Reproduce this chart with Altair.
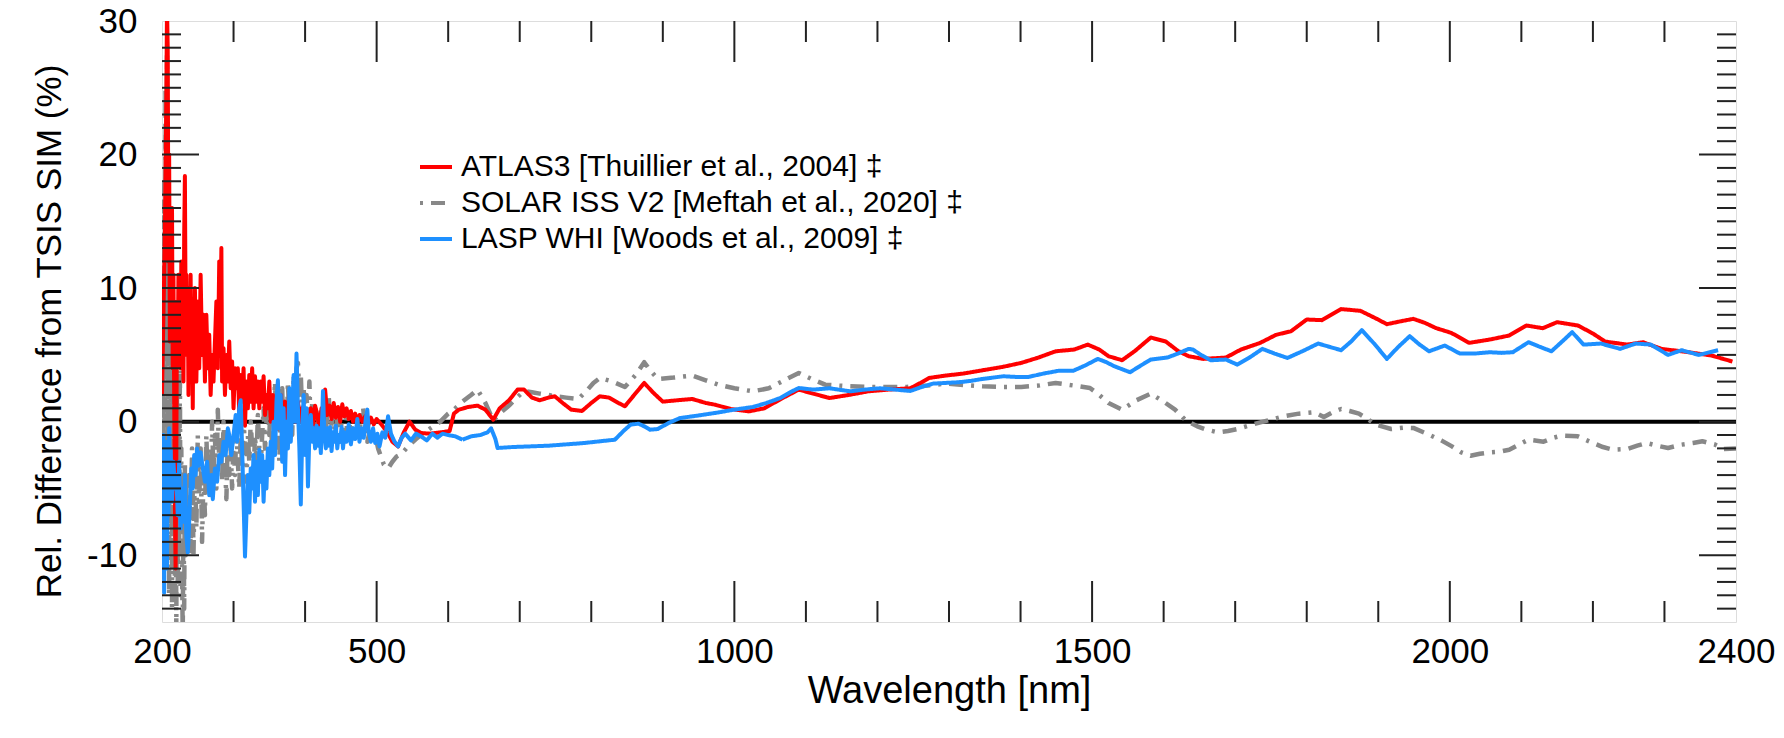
import altair as alt
import pandas as pd

# ---------------- data ----------------
SERIES = ["ATLAS3 [Thuillier et al., 2004] \u2021",
          "SOLAR ISS V2 [Meftah et al., 2020] \u2021",
          "LASP WHI [Woods et al., 2009] \u2021"]
COLORS = ["#ff0000", "#888888", "#1e90ff"]

# (wavelength nm, relative difference %)
atlas3 = [
    (200, 2), (202, 8), (204, 14), (206, 24), (207, 31), (208, 28), (209, 12), (210, 20),
    (211, 6), (212, 15), (213, 9), (214, 16), (215, 4), (216, 11), (217, 2), (218, -6),
    (219, -11), (220, -3), (221, 9), (222, 5), (223, 11), (224, 7), (225, 10), (226, 4),
    (227, 12), (228, 6), (229, 9), (230, 3), (231, 14), (232, 18.4), (233, 8), (234, 11),
    (235, 5), (236, 10), (237, 2), (238, 9), (239, 6), (240, 11), (241, 4), (242, 8),
    (243, 1), (244, 9), (245, 5), (246, 10), (248, 3), (250, 9), (252, 4), (254, 11),
    (256, 5), (258, 8), (260, 3), (262, 8), (264, 4), (266, 6.5), (268, 2), (270, 5),
    (272, 3), (274, 6), (276, 9), (277, 5), (278, 4), (280, 12), (281, 5), (282, 9),
    (283, 13), (284, 3), (286, 5.5), (288, 2), (290, 5), (292, 3), (294, 6), (296, 2.5),
    (298, 4.5), (300, 1), (302, 4), (304, 2.5), (306, 4), (308, 0.5), (310, 3.5), (312, 1.5),
    (314, 4), (316, -0.3), (318, 3), (320, 1), (322, 3.5), (324, 1.5), (326, 4), (328, 1),
    (330, 3.4), (332, 1.5), (334, 3), (336, 1), (338, 3), (340, 1.5), (342, 3.4), (344, 0.5),
    (346, 2), (348, 1), (350, 3), (352, 0), (355, 2), (358, -0.8), (360, 1.5), (363, -0.5),
    (366, 2), (369, 0), (372, 1.5), (375, -1), (378, 2), (381, 0.5), (384, 2.3), (387, 0),
    (390, 1.5), (393, 0), (396, 1), (399, -1), (402, 0.5), (405, -0.8), (408, 1), (411, -0.5),
    (414, 1.2), (417, 0.5), (420, -0.5), (423, 1), (426, 0), (428, 2.4), (431, 0.5), (434, 1.2),
    (437, 0.2), (440, 1.4), (443, 0.3), (446, 1.1), (449, 0), (452, 1.3), (455, 0.4), (458, 1),
    (461, 0.2), (464, 0.8), (467, 0), (470, 0.6), (473, -0.2), (476, 0.5), (480, 0), (484, 0.4),
    (488, -0.3), (492, 0.3), (496, -0.2), (500, 0.2), (508, -0.3), (515, -0.8), (522, -1.5),
    (530, -1.85), (538, -0.8), (546, 0.0), (554, -0.6), (562, -0.85), (575, -0.9), (590, -0.8),
    (602, -0.7), (608, 0.6), (615, 0.9), (628, 1.1), (641, 1.2), (652, 0.9), (663, 0.15),
    (672, 1.0), (685, 1.6), (697, 2.4), (706, 2.4), (717, 1.8), (728, 1.6), (740, 1.8),
    (749, 1.9), (760, 1.4), (772, 0.9), (787, 0.8), (800, 1.4), (812, 1.9), (825, 1.8),
    (838, 1.4), (847, 1.15), (860, 2.0), (874, 2.9), (886, 2.2), (900, 1.5), (920, 1.6),
    (941, 1.7), (960, 1.4), (973, 1.27), (995, 0.95), (1020, 0.77), (1042, 1.0), (1065, 1.7),
    (1090, 2.4), (1110, 2.1), (1133, 1.77), (1160, 2.0), (1187, 2.27), (1215, 2.4), (1246, 2.5),
    (1260, 2.9), (1272, 3.27), (1295, 3.45), (1320, 3.6), (1347, 3.85), (1375, 4.1), (1401, 4.4),
    (1425, 4.8), (1449, 5.27), (1475, 5.4), (1494, 5.77), (1510, 5.4), (1523, 4.9), (1542, 4.6),
    (1560, 5.3), (1582, 6.3), (1603, 6.0), (1620, 5.3), (1635, 4.9), (1655, 4.7), (1687, 4.8),
    (1708, 5.4), (1735, 5.9), (1757, 6.5), (1778, 6.77), (1800, 7.65), (1821, 7.6), (1848, 8.43),
    (1875, 8.3), (1896, 7.75), (1912, 7.3), (1930, 7.5), (1949, 7.7), (1965, 7.4), (1981, 7.0),
    (2002, 6.65), (2027, 5.9), (2056, 6.15), (2083, 6.45), (2107, 7.2), (2130, 7.0), (2150, 7.45),
    (2179, 7.2), (2200, 6.6), (2217, 6.0), (2248, 5.77), (2270, 5.95), (2296, 5.45), (2334, 5.2),
    (2366, 4.95), (2395, 4.5),
]

solar_iss = [
    (200, -3), (201, 10), (202, -12), (203, 18), (204, -8), (205, 25), (206, 5), (207, 27.4),
    (208, -5), (209, 20), (210, -13), (211, 14), (212, -6), (213, 10), (214, -14), (215, 8),
    (216, -10), (217, 5), (218, -13), (219, 3), (220, -15.5), (221, 2), (222, -12), (223, 0),
    (224, -9), (225, 4), (226, -13), (227, -2), (228, -11), (229, -16), (230, -6), (231, -14),
    (232, -3), (233, -10), (234, -5), (236, -9), (238, -4), (240, -10), (242, -2), (244, -10),
    (246, -3), (248, -8), (250, -1), (252, -6), (254, -2), (256, -9), (258, -4), (260, -7),
    (262, -1), (264, -5), (266, -2), (268, -5.5), (270, 0), (272, -4), (274, -1), (276, -5),
    (278, 0.9), (280, -3), (282, -1), (284, -4.5), (286, 0), (288, -3), (290, -5.8), (292, -1),
    (294, -4), (296, -2), (298, -5), (300, -1.5), (302, -4), (304, -0.5), (306, -3), (308, -5),
    (310, -1), (312, -3.5), (314, 0.5), (316, -2.5), (318, -4.5), (320, -1), (322, -3), (324, 0),
    (326, -2), (328, -4), (330, -1), (332, -3), (334, 0.5), (336, -2), (338, -3.3), (340, -1),
    (342, 1), (344, -2), (346, 0), (348, 2), (350, -1), (352, 1.5), (354, -2.5), (356, 0.5),
    (358, 3), (360, -1), (362, 2), (364, -3), (366, 1), (368, 2.5), (370, -1.5), (372, 1),
    (374, -2), (376, 3), (378, 0), (380, 2), (382, -1), (384, 3.5), (386, 1), (388, 4),
    (390, 4.4), (392, 2), (394, 3.5), (396, 0.5), (398, 2.5), (400, -0.5), (402, 2), (404, 0),
    (406, 3), (408, -1), (410, 1.5), (412, -0.5), (414, 1), (416, -1.5), (418, 0.5), (420, -1),
    (422, 1), (424, -0.8), (426, 0.5), (428, -1.5), (430, 0), (433, 1.9), (436, -0.5), (439, 0.5),
    (442, -1), (445, 0.3), (448, -1.5), (451, 0), (454, -1), (457, 0.3), (460, -1.2), (463, 0),
    (466, -0.8), (469, -1.5), (472, -0.5), (475, -1.0), (478, 0), (481, 1.1), (484, -0.5),
    (487, -1.5), (490, -0.8), (494, -1.5), (498, -1.0), (502, -2), (506, -2.6), (510, -3.2),
    (516, -3.5), (522, -3.0), (528, -2.6), (535, -2.4), (545, -1.8), (555, -1.3), (562, -1.0),
    (575, -0.5), (589, 0.0), (600, 0.6), (608, 0.9), (620, 1.5), (632, 2.0), (641, 2.4),
    (652, 1.4), (663, 0.1), (674, 0.7), (685, 1.2), (696, 1.8), (706, 2.3), (717, 2.2),
    (728, 2.1), (740, 2.0), (749, 1.9), (765, 1.8), (782, 1.7), (795, 2.4), (803, 2.9),
    (812, 3.27), (830, 3.0), (847, 2.6), (862, 3.5), (874, 4.45), (883, 3.8), (893, 3.2),
    (915, 3.3), (941, 3.45), (960, 3.1), (978, 2.77), (1000, 2.5), (1026, 2.27), (1048, 2.5),
    (1070, 3.1), (1090, 3.65), (1108, 3.2), (1127, 2.77), (1160, 2.65), (1187, 2.6), (1215, 2.6),
    (1241, 2.6), (1270, 2.7), (1295, 2.85), (1320, 2.75), (1347, 2.65), (1375, 2.6), (1401, 2.6),
    (1425, 2.7), (1449, 2.9), (1475, 2.7), (1497, 2.52), (1510, 2.0), (1523, 1.4), (1542, 0.9),
    (1562, 1.6), (1582, 2.1), (1600, 1.5), (1616, 0.9), (1631, 0.1), (1647, -0.35), (1660, -0.6),
    (1676, -0.8), (1690, -0.7), (1703, -0.55), (1725, -0.2), (1746, 0.1), (1768, 0.4), (1789, 0.6),
    (1811, 0.7), (1824, 0.35), (1836, 0.7), (1848, 0.95), (1860, 0.8), (1873, 0.6), (1885, 0.2),
    (1896, -0.22), (1918, -0.55), (1935, -0.45), (1949, -0.47), (1971, -0.97), (1988, -1.4),
    (2003, -1.85), (2016, -2.3), (2029, -2.55), (2042, -2.4), (2056, -2.3), (2070, -2.25),
    (2083, -2.1), (2097, -1.7), (2110, -1.35), (2131, -1.5), (2145, -1.2), (2156, -1.05),
    (2179, -1.1), (2200, -1.6), (2214, -1.9), (2228, -2.1), (2248, -2.05), (2262, -1.8),
    (2275, -1.6), (2290, -1.8), (2305, -1.97), (2324, -1.72), (2340, -1.6), (2353, -1.47),
    (2370, -1.7), (2383, -2.05), (2400, -2.0),
]

lasp_whi = [
    (200, -2), (201, -8), (202, -1), (203, -12.8), (204, -4), (205, -10), (206, -1.5), (207, -11),
    (208, -3), (209, -7), (210, -0.5), (211, -5), (212, -2), (214, -6), (216, -3), (218, -5),
    (220, -4), (222, -7), (224, -3), (226, -8), (228, -5), (230, -7.5), (232, -4), (234, -8.5),
    (236, -9.8), (237, -9), (239, -6), (241, -3.5), (243, -5), (245, -2.5), (247, -4), (249, -2),
    (251, -3.3), (254, -2.3), (257, -3.5), (260, -4.5), (263, -3), (266, -5.5), (269, -4),
    (271, -5.8), (274, -3.5), (277, -4.5), (280, -2.5), (283, -3), (286, -1.5), (289, -2.5),
    (292, -0.5), (294, -1), (297, -2.5), (300, -1), (303, 0.5), (305, -1.5), (308, 1), (310, 1.6),
    (312, -2), (314, -6), (316, -10.1), (318, -7), (320, -4), (322, -6.8), (324, -3.5), (326, -5),
    (328, -2.5), (330, -6), (332, -3), (334, -5.5), (336, -2.1), (338, -4.5), (340, -2.5),
    (342, -6), (344, -3), (346, -5), (348, -2), (350, -4), (352, -1.5), (354, -3.5), (356, 0),
    (358, -2.5), (360, 1.5), (362, 3.1), (364, -0.5), (366, 2), (368, -3), (370, 1), (372, -4),
    (374, 0), (376, -2), (378, 2.5), (380, -1.5), (382, 1), (384, 3.5), (386, 0), (388, 5.1),
    (390, 1), (392, -2), (394, -6.2), (396, -1), (398, 2), (400, -2.5), (402, 1), (404, -4.85),
    (406, -1), (408, 0.5), (410, -1.5), (412, -0.5), (414, -2), (416, -0.3), (418, -1.8),
    (420, -0.5), (422, -2.35), (424, 0.5), (425, 2.3), (427, -1), (429, -2), (431, -0.5),
    (433, -1.8), (435, -0.4), (437, -2.2), (439, -0.8), (441, -1.5), (443, -0.3), (445, -2.0),
    (447, -1), (449, -1.5), (451, -0.4), (453, -2), (455, -0.8), (458, -1.5), (461, -0.2),
    (464, -1.7), (467, -0.5), (470, -1.3), (473, 0.2), (476, -1.5), (479, -0.5), (482, -1.2),
    (485, 0.3), (487, 0.9), (489, -0.8), (492, -1.5), (495, -0.5), (498, -1.6), (501, -0.9),
    (504, -1.85), (508, -0.8), (512, -1.2), (516, 0.4), (520, -0.9), (525, -1.5), (530, -1.85),
    (535, -1.2), (540, -0.9), (548, -1.4), (555, -0.9), (562, -1.1), (570, -1.4), (578, -0.9),
    (585, -1.2), (592, -0.9), (600, -1.0), (610, -1.1), (620, -1.35), (632, -1.1), (645, -1.0),
    (655, -0.8), (660, -0.5), (666, -1.3), (669, -1.97), (690, -1.9), (715, -1.85), (740, -1.8),
    (765, -1.7), (790, -1.6), (812, -1.47), (833, -1.35), (845, -0.7), (855, -0.22), (866, -0.15),
    (874, -0.35), (882, -0.6), (893, -0.55), (908, -0.1), (924, 0.27), (948, 0.45), (973, 0.65),
    (1000, 0.9), (1026, 1.1), (1045, 1.4), (1064, 1.77), (1078, 2.2), (1090, 2.52), (1110, 2.4),
    (1133, 2.5), (1162, 2.27), (1182, 2.4), (1203, 2.5), (1225, 2.4), (1246, 2.3), (1262, 2.6),
    (1278, 2.85), (1295, 2.9), (1313, 2.95), (1330, 3.05), (1347, 3.2), (1376, 3.4), (1393, 3.35),
    (1411, 3.35), (1432, 3.6), (1454, 3.82), (1474, 3.82), (1490, 4.2), (1508, 4.7), (1520, 4.45),
    (1531, 4.15), (1553, 3.7), (1568, 4.2), (1582, 4.65), (1605, 4.8), (1620, 5.1), (1635, 5.45),
    (1641, 5.4), (1652, 5.0), (1666, 4.6), (1687, 4.65), (1703, 4.27), (1720, 4.8), (1738, 5.45),
    (1755, 5.1), (1773, 4.77), (1795, 5.3), (1816, 5.85), (1832, 5.6), (1848, 5.35), (1862, 6.0),
    (1877, 6.85), (1895, 5.8), (1912, 4.7), (1928, 5.6), (1944, 6.4), (1957, 5.8), (1971, 5.27),
    (1993, 5.7), (2014, 5.1), (2035, 5.1), (2056, 5.2), (2072, 5.15), (2088, 5.2), (2110, 5.95),
    (2126, 5.6), (2142, 5.27), (2157, 6.0), (2171, 6.7), (2187, 5.77), (2211, 5.85), (2238, 5.45),
    (2260, 5.85), (2281, 5.77), (2305, 5.0), (2324, 5.35), (2348, 5.0), (2375, 5.35),
]

X_LABELS = [200, 500, 1000, 1500, 2000, 2400]
Y_LABELS = [-10, 0, 10, 20, 30]
X_MAJOR = [500, 1000, 1500, 2000]
X_MINOR = [v for v in range(300, 2400, 100) if v not in X_MAJOR]
Y_MAJOR = [-10, 0, 10, 20]
Y_MINOR = [v for v in range(-14, 30) if v not in Y_MAJOR]

# ---------------- chart ----------------
W, H = 1574, 601
FONT = "Liberation Sans"

rows = []
for name, pts in zip(SERIES, [atlas3, solar_iss, lasp_whi]):
    for nm, v in pts:
        rows.append({"series": name, "nm": nm, "diff": v})
df = pd.DataFrame(rows)

xs = alt.Scale(domain=[200, 2400], nice=False, zero=False)
ys = alt.Scale(domain=[-15, 30], nice=False, zero=False)

x_axis = alt.Axis(values=X_LABELS, title="Wavelength [nm]", ticks=False, tickSize=0,
                  domain=False, grid=False, labelFontSize=35, labelPadding=40,
                  labelExpr="'' + datum.value",
                  labelBaseline="alphabetic", labelFlush=False, labelOverlap=False,
                  labelBound=False, labelColor="black", labelFont=FONT,
                  titleFontSize=38, titleFontWeight="normal", titleColor="black",
                  titleFont=FONT, titleX=W / 2, titleY=80, titleBaseline="alphabetic",
                  titleAlign="center")
y_axis = alt.Axis(values=Y_LABELS, title="Rel. Difference from TSIS SIM (%)", ticks=False,
                  tickSize=0, domain=False, grid=False, labelFontSize=35, labelPadding=25,
                  labelExpr="'' + datum.value", labelFlush=False, labelOverlap=False,
                  labelBound=False, labelColor="black", labelFont=FONT,
                  titleFontSize=35, titleFontWeight="normal", titleColor="black",
                  titleFont=FONT, titleAngle=270, titleX=-102, titleY=310,
                  titleBaseline="alphabetic", titleAlign="center")

cscale = alt.Scale(domain=SERIES, range=COLORS)
dscale = alt.Scale(domain=SERIES, range=[[1, 0], [3, 8, 14, 8], [1, 0]])
leg = alt.Legend(title=None, orient="none", legendX=256, legendY=128, symbolType="stroke",
                 symbolSize=1024, symbolStrokeWidth=4, labelFontSize=30, labelFont=FONT,
                 labelColor="black", labelOffset=7, rowPadding=3, padding=0, labelLimit=0)

def series_layer(name, width):
    return alt.Chart(df[df["series"] == name]).mark_line(
        strokeWidth=width, clip=True, strokeJoin="round").encode(
        x=alt.X("nm:Q", scale=xs, axis=x_axis),
        y=alt.Y("diff:Q", scale=ys, axis=y_axis),
        color=alt.Color("series:N", scale=cscale, legend=leg),
        strokeDash=alt.StrokeDash("series:N", scale=dscale, legend=leg),
    )

zero = alt.Chart(pd.DataFrame({"v": [0]})).mark_rule(color="black", strokeWidth=4).encode(
    y=alt.Y("v:Q", scale=ys, axis=y_axis))

TICK = dict(color="#222222", strokeWidth=2)

def xticks(vals, length):
    d = pd.DataFrame({"pos": vals})
    x = alt.X("pos:Q", scale=xs, axis=x_axis)
    bot = alt.Chart(d).mark_rule(**TICK).encode(x=x, y=alt.value(H), y2=alt.value(H - length))
    top = alt.Chart(d).mark_rule(**TICK).encode(x=x, y=alt.value(0), y2=alt.value(length))
    return [bot, top]

def yticks(vals, length):
    d = pd.DataFrame({"pos": vals})
    y = alt.Y("pos:Q", scale=ys, axis=y_axis)
    left = alt.Chart(d).mark_rule(**TICK).encode(y=y, x=alt.value(0), x2=alt.value(length))
    right = alt.Chart(d).mark_rule(**TICK).encode(y=y, x=alt.value(W - length), x2=alt.value(W))
    return [left, right]

layers = [zero,
          series_layer(SERIES[1], 4.5),
          series_layer(SERIES[0], 4),
          series_layer(SERIES[2], 4)]
layers += xticks(X_MINOR, 21) + xticks(X_MAJOR, 41)
layers += yticks(Y_MINOR, 19) + yticks(Y_MAJOR, 37)

chart = alt.layer(*layers).properties(
    width=W, height=H,
    padding={"left": 154, "top": 13, "right": 40, "bottom": 108},
    autosize=alt.AutoSizeParams(type="none"),
    background="white",
).configure_view(stroke="#222222", strokeWidth=2).configure(font=FONT)

chart.save("out.html", embed_options={"renderer": "svg", "actions": False})
